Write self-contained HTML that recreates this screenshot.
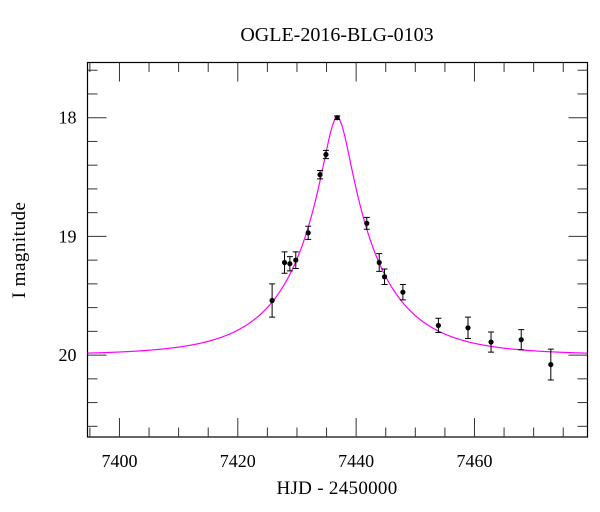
<!DOCTYPE html>
<html><head><meta charset="utf-8"><style>
body{margin:0;background:#fff}
svg{display:block;font-family:"Liberation Serif",serif}
</style></head><body>
<svg id="chart" width="600" height="512">
<text x="337" y="41" text-anchor="middle" font-size="20">OGLE-2016-BLG-0103</text>
<text x="337" y="494" text-anchor="middle" font-size="19" letter-spacing="0.3">HJD - 2450000</text>
<text transform="translate(25,250) rotate(-90)" text-anchor="middle" font-size="19" letter-spacing="0.5">I magnitude</text>
<g id="plot"></g>
</svg>
<script>
const times=[7425.8,7427.9,7428.8,7429.8,7431.9,7433.9,7434.9,7436.8,7441.8,7443.9,7444.8,7447.9,7453.9,7458.9,7462.8,7467.9,7472.9];
const mags=[19.54,19.22,19.23,19.20,18.97,18.48,18.31,18.00,18.89,19.22,19.34,19.47,19.75,19.77,19.89,19.87,20.08];
const errs=[0.14,0.09,0.06,0.07,0.055,0.035,0.035,0.015,0.05,0.075,0.065,0.065,0.06,0.09,0.085,0.085,0.13];
const xTicks=[7400,7420,7440,7460];
const yTicks=[18,19,20];
const model={t0:7436.8,u0:0.16,tE:13.7,base:20.0};

const L=87.5,R=587.5,T=62.5,B=437;
const xMin=7394.6,xMax=7479.1,yTop=17.535,yBot=20.69;
const X=t=>L+(t-xMin)/(xMax-xMin)*(R-L);
const Y=m=>T+(m-yTop)/(yBot-yTop)*(B-T);
const NS='http://www.w3.org/2000/svg';
const g=document.getElementById('plot');
function mk(tag,attrs){const e=document.createElementNS(NS,tag);for(const k in attrs)e.setAttribute(k,attrs[k]);g.appendChild(e);return e;}

let fr=mk('rect',{x:L,y:T,width:R-L,height:B-T,fill:'none',stroke:'#000','stroke-width':1.2});



for(let t=7395;t<=7478;t+=5){
  const major=(t%20===0), len=major?19:9.5, x=X(t);
  let a=mk('line',{x1:x,x2:x,y1:B,y2:B-len,stroke:'#333','stroke-width':1});
  
  
  let b=mk('line',{x1:x,x2:x,y1:T,y2:T+len,stroke:'#333','stroke-width':1});
  
  
}
xTicks.forEach(t=>{
  const tx=mk('text',{x:X(t),y:B+30,'text-anchor':'middle','font-size':18});
  tx.textContent=t;
  
  
});
for(let i=18;i<=103;i++){
  const m=i/5; if(m<yTop||m>yBot)continue;
  const major=(i%5===0), len=major?19:10, y=Y(m);
  let a=mk('line',{x1:L,x2:L+len,y1:y,y2:y,stroke:'#333','stroke-width':1});
  
  
  let b=mk('line',{x1:R,x2:R-len,y1:y,y2:y,stroke:'#333','stroke-width':1});
  
  
}
yTicks.forEach(m=>{
  const tx=mk('text',{x:L-11,y:Y(m)+6,'text-anchor':'end','font-size':18});
  tx.textContent=m;
  
  
});

let d='';
for(let px=L;px<=R;px+=0.5){
  const t=xMin+(px-L)/(R-L)*(xMax-xMin);
  const u=Math.sqrt(model.u0*model.u0+Math.pow((t-model.t0)/model.tE,2));
  const A=(u*u+2)/(u*Math.sqrt(u*u+4));
  const m=model.base-2.5*Math.log10(A);
  d+=(d?'L':'M')+px.toFixed(1)+' '+Y(m).toFixed(2);
}
const cv=mk('path',{d:d,fill:'none',stroke:'#ff00ff','stroke-width':1.2});



times.forEach((t,i)=>{
  const x=X(t),y=Y(mags[i]),y1=Y(mags[i]-errs[i]),y2=Y(mags[i]+errs[i]);
  const e=mk('path',{d:`M${x} ${y1}V${y2}M${x-3} ${y1}H${x+3}M${x-3} ${y2}H${x+3}`,stroke:'#000','stroke-width':1,fill:'none'});
  
  
  const c=mk('circle',{cx:x,cy:y,r:2.6,fill:'#000'});
  
  
});
</script>
</body></html>
